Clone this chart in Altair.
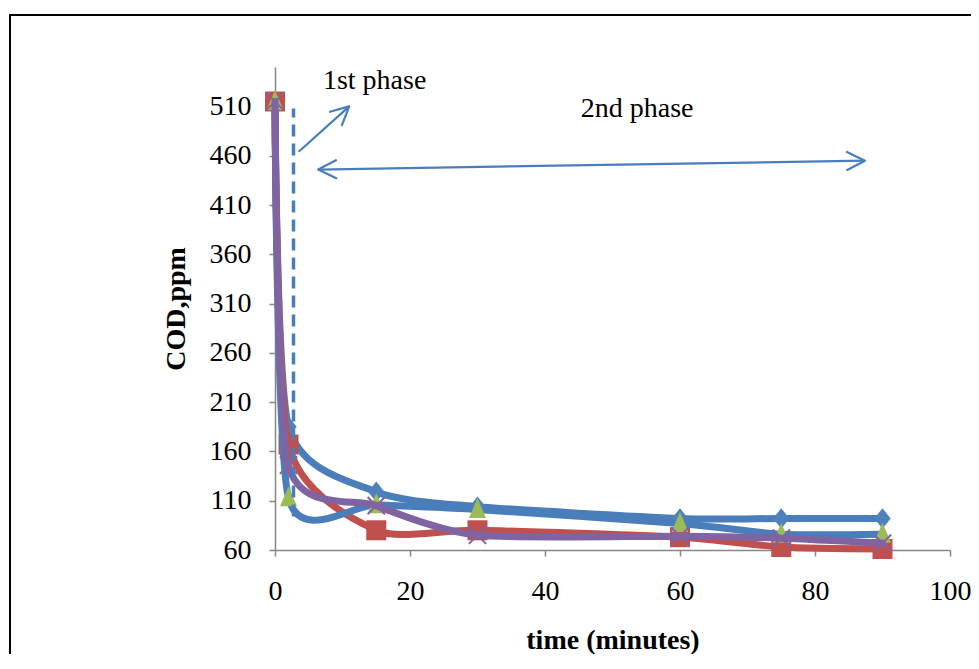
import altair as alt
import pandas as pd

# ---- data ----
time_min = [0, 2, 15, 30, 60, 75, 90]
cod_diamond = [515, 185, 119, 104, 92, 92, 92]
cod_square = [515, 167, 80, 80, 73, 63, 61]
cod_triangle = [515, 113, 106, 101, 87, 76, 76]
cod_cross = [515, 146, 105, 75, 74, 72, 67]

x_ticks = [0, 20, 40, 60, 80, 100]
y_ticks = [60, 110, 160, 210, 260, 310, 360, 410, 460, 510]

phase_labels = ["1st phase", "2nd phase"]
phase_label_x = [7.1, 45.3]
phase_label_y = [527.7, 499.6]

boundary_x = [2.74]
boundary_y0 = [94]
boundary_y1 = [508]

arrow_x0 = [3.5, 6.4]
arrow_y0 = [464, 446]
arrow_x1 = [11.0, 87.4]
arrow_y1 = [510, 455]

head_x = [11.0, 87.4, 6.4]
head_y = [510, 455, 446]
head_angle = [48, 89, 269]

FONT = "Liberation Serif"
BLUE_LINE = "#4A7EBB"
BLUE = "#4F81BD"
RED = "#C0504D"
GREEN = "#9BBB59"
PURPLE = "#8064A2"

x_scale = alt.Scale(domain=[0, 100], nice=False, zero=False)
y_scale = alt.Scale(domain=[60, 550], nice=False, zero=False)

x_axis = alt.Axis(
    values=x_ticks, format="d", grid=False,
    labelFont=FONT, labelFontSize=28, labelColor="black",
    labelPadding=21, labelFlush=False, labelOverlap=False,
    tickColor="#868686", tickWidth=1.5, tickSize=6,
    domainColor="#868686", domainWidth=1.5,
    title="time (minutes)", titleFont=FONT, titleFontSize=28,
    titleFontWeight="bold", titleColor="black",
    titleX=337.5, titleY=98, titleBaseline="alphabetic", titleAlign="center",
)
y_axis = alt.Axis(
    values=y_ticks, format="d", grid=False,
    labelFont=FONT, labelFontSize=28, labelColor="black",
    labelPadding=18, labelFlush=False, labelOverlap=False,
    tickColor="#868686", tickWidth=1.5, tickSize=6,
    domainColor="#868686", domainWidth=1.5,
    title="COD,ppm", titleFont=FONT, titleFontSize=28,
    titleFontWeight="bold", titleColor="black",
    titleX=-91, titleY=241.5, titleAngle=270,
    titleBaseline="alphabetic", titleAlign="center",
)


def X(field):
    return alt.X(field, scale=x_scale, axis=x_axis)


def Y(field):
    return alt.Y(field, scale=y_scale, axis=y_axis)


DIAMOND = "M0,-1L0.8,0L0,1L-0.8,0Z"
TRIANGLE = "M0,-1.15L-0.85,0.85L0.85,0.85Z"
XMARK = "M-1,-1L1,1M-1,1L1,-1"

series = [
    ("diamond", cod_diamond, BLUE_LINE, BLUE, DIAMOND, 420, True),
    ("square", cod_square, RED, RED, "square", 400, True),
    ("triangle", cod_triangle, BLUE_LINE, GREEN, TRIANGLE, 400, True),
    ("cross", cod_cross, PURPLE, PURPLE, XMARK, 300, False),
]

layers = []

# chart frame (decoration)
frame = alt.Chart(alt.Data(values=[{"f": 1}])).mark_rect(
    fill="white", fillOpacity=0, stroke="black", strokeWidth=2
).encode(
    x=alt.value(-265), x2=alt.value(800), y=alt.value(-52), y2=alt.value(700)
)

for name, vals, lcol, mcol, shape, size, filled in series:
    df = pd.DataFrame({"t": time_min, "cod": vals})
    line = alt.Chart(df).mark_line(
        interpolate="cardinal", tension=0.3, strokeWidth=7,
        color=lcol, strokeCap="round", strokeJoin="round"
    ).encode(x=X("t:Q"), y=Y("cod:Q"))
    if filled:
        pts = alt.Chart(df).mark_point(
            shape=shape, filled=True, size=size, color=mcol, opacity=1
        ).encode(x=X("t:Q"), y=Y("cod:Q"))
    else:
        pts = alt.Chart(df).mark_point(
            shape=shape, filled=False, size=size, color=mcol,
            strokeWidth=2, opacity=1
        ).encode(x=X("t:Q"), y=Y("cod:Q"))
    layers.append(line)
    layers.append(pts)

# phase boundary (dashed)
bdf = pd.DataFrame({"x": boundary_x, "y0": boundary_y0, "y1": boundary_y1})
boundary = alt.Chart(bdf).mark_rule(
    color=BLUE_LINE, strokeWidth=3.5, strokeDash=[12, 7]
).encode(x=X("x:Q"), y=Y("y0:Q"), y2="y1:Q")
layers.append(boundary)

# arrows
adf = pd.DataFrame({"x0": arrow_x0, "y0": arrow_y0, "x1": arrow_x1, "y1": arrow_y1})
arrows = alt.Chart(adf).mark_rule(color=BLUE_LINE, strokeWidth=2.25).encode(
    x=X("x0:Q"), y=Y("y0:Q"), x2="x1:Q", y2="y1:Q",
)
layers.append(arrows)

hdf = pd.DataFrame({"x": head_x, "y": head_y, "a": head_angle})
heads = alt.Chart(hdf).mark_point(
    shape="M-0.5,1L0,0L0.5,1", filled=False, size=1280,
    color=BLUE_LINE, strokeWidth=2.25, opacity=1, strokeCap="round", strokeJoin="round"
).encode(
    x=X("x:Q"), y=Y("y:Q"),
    angle=alt.Angle("a:Q", scale=None),
)
layers.append(heads)

# phase labels
tdf = pd.DataFrame({"x": phase_label_x, "y": phase_label_y, "label": phase_labels})
texts = alt.Chart(tdf).mark_text(
    font=FONT, fontSize=28, align="left", baseline="alphabetic", color="black"
).encode(x=X("x:Q"), y=Y("y:Q"), text="label:N")
layers.append(texts)

layers.append(frame)

chart = alt.layer(*layers).properties(
    width=675, height=483,
    autosize=alt.AutoSizeParams(type="none"),
    padding={"left": 267, "top": 59, "right": 21, "bottom": 104},
    background="white",
).configure_view(strokeWidth=0)

chart.save("out.html", embed_options={"renderer": "svg", "actions": False})
